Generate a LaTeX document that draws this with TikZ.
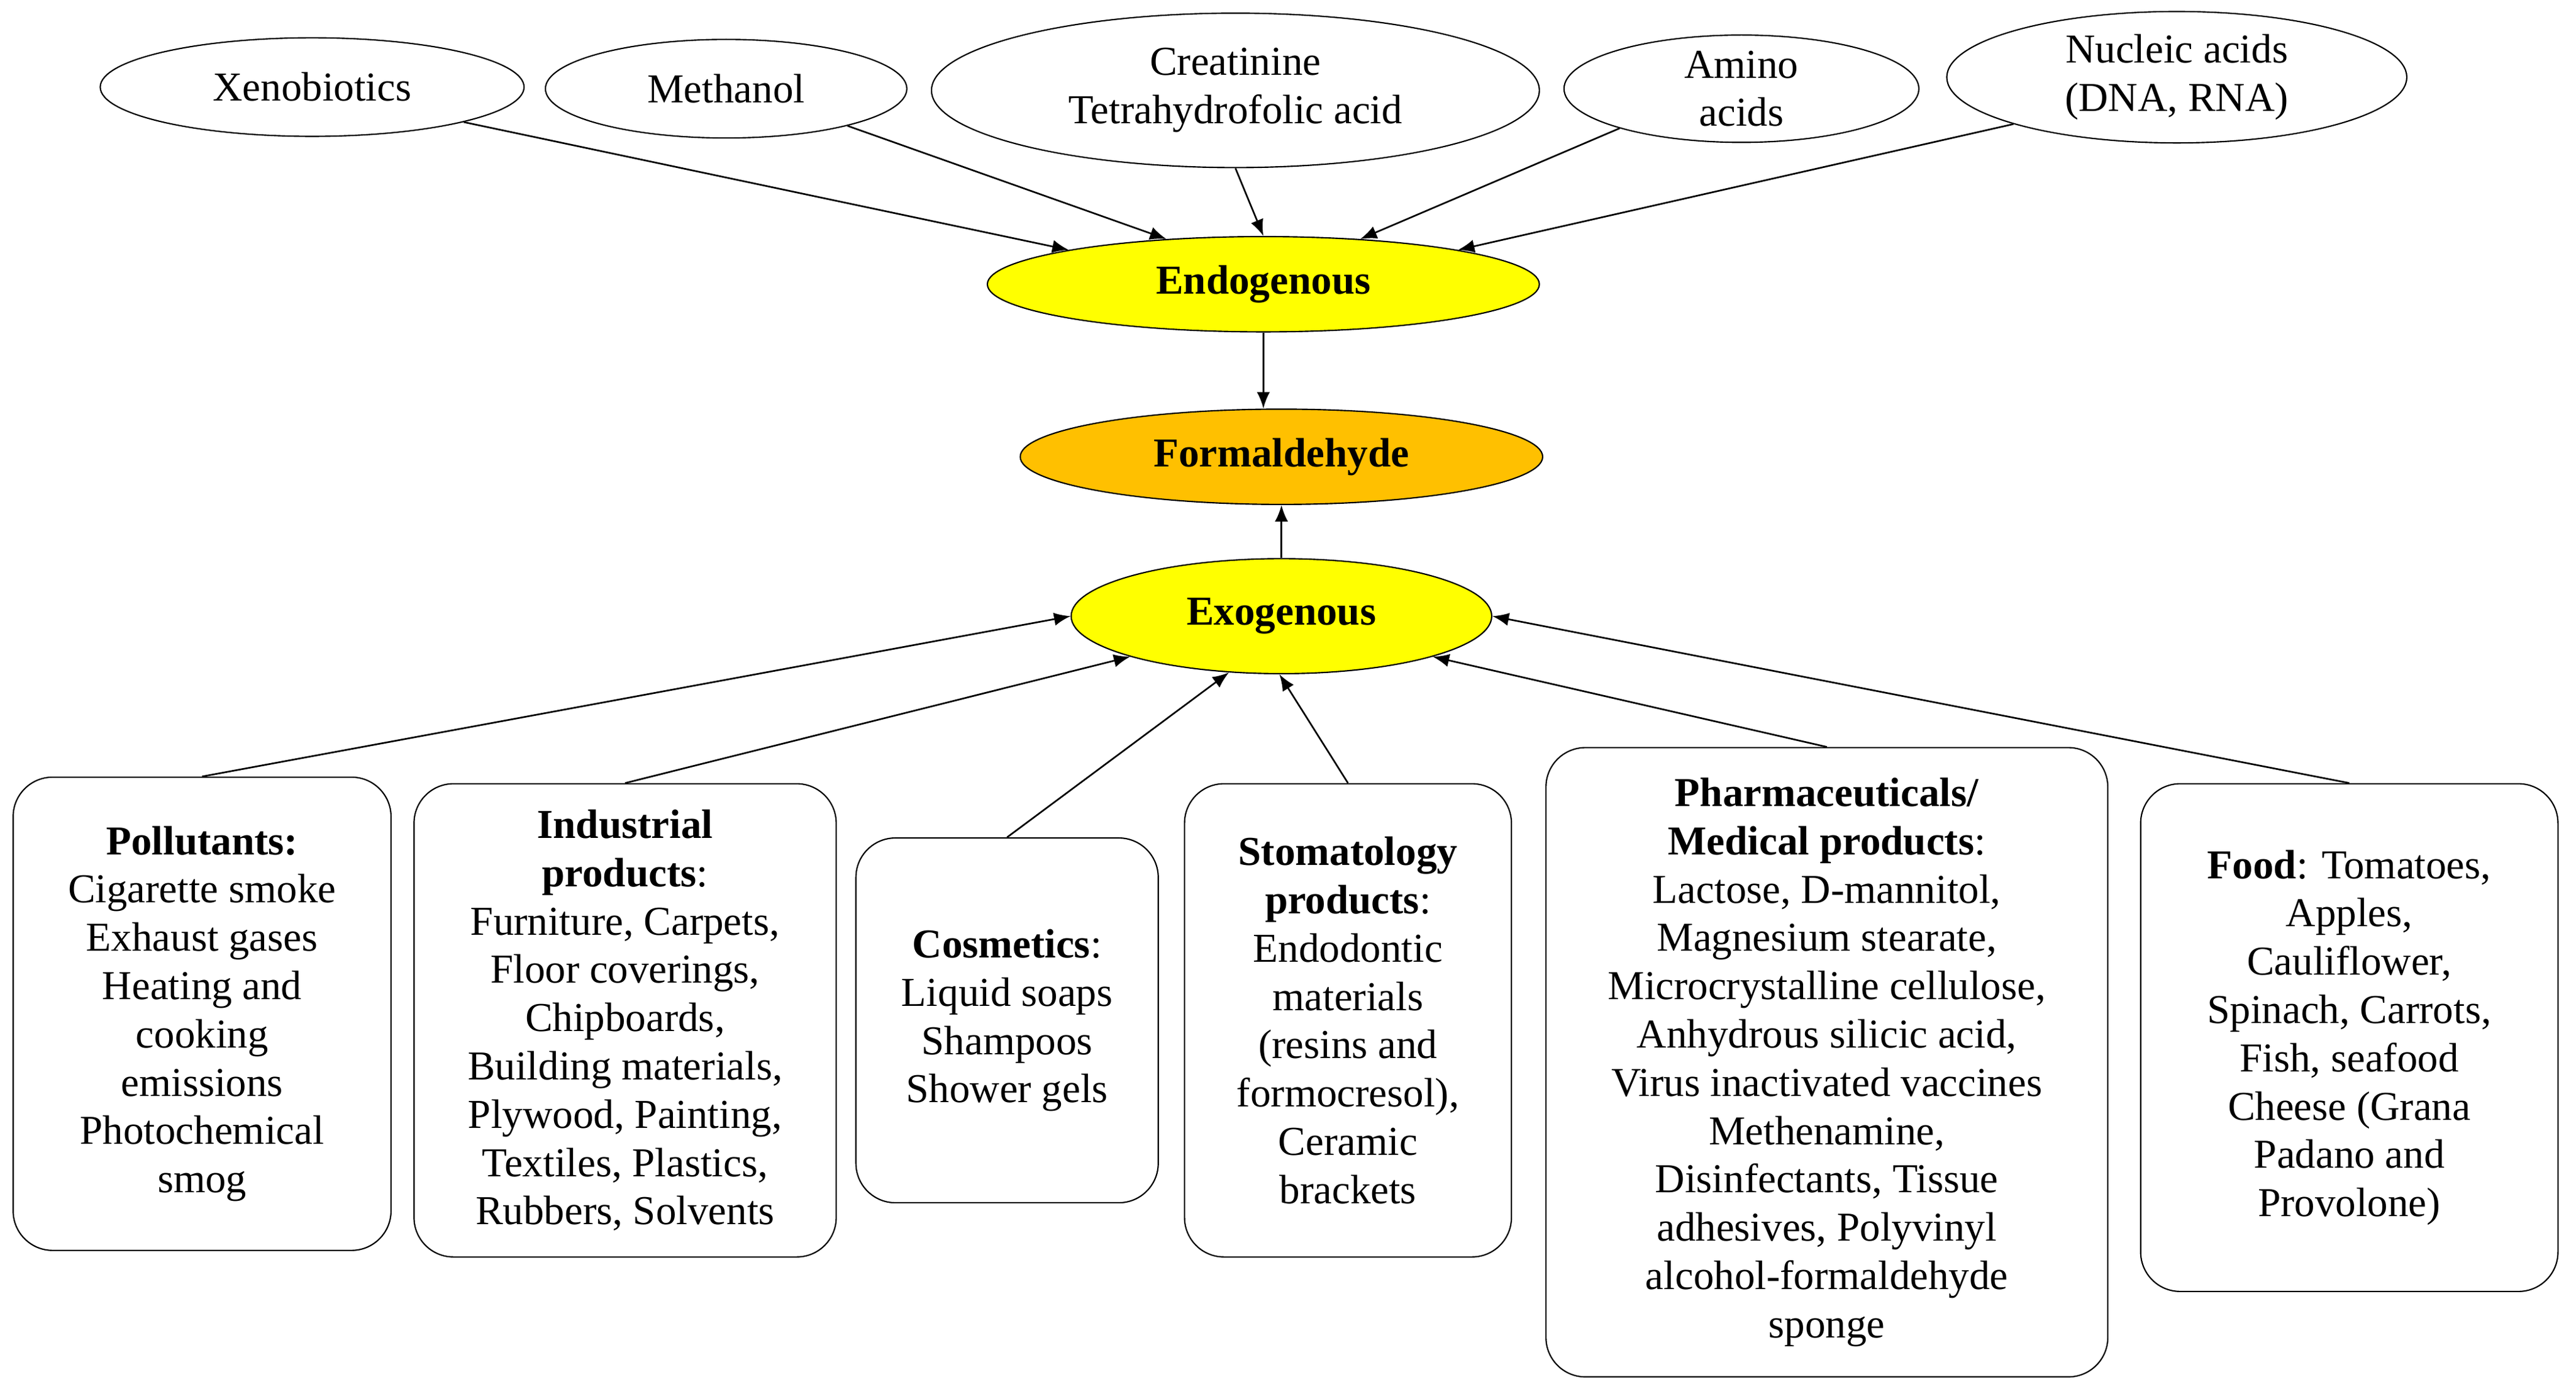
\documentclass[tikz,border=0pt]{standalone}
\usepackage{fontspec}
\setmainfont{Liberation Serif}
\usetikzlibrary{shapes.geometric,arrows.meta}
\definecolor{endoyel}{RGB}{255,255,0}
\definecolor{formor}{RGB}{255,192,0}
\begin{document}
\begin{tikzpicture}[x=0.5pt,y=-0.5pt,
  every node/.style={font=\fontsize{12.5}{14.7}\selectfont, align=center},
  src/.style={ellipse, draw, inner sep=0pt},
  hub/.style={ellipse, draw, inner sep=0pt, fill=endoyel, font=\fontsize{12.5}{14.7}\selectfont\bfseries},
  box/.style={draw, rounded corners=12pt, inner sep=0pt},
  arr/.style={-{Latex[length=5pt,width=4pt]}, line width=0.5pt}]
\useasboundingbox (0,0) rectangle (1568,845);
% sources
\node[src, minimum width=129pt, minimum height=30pt] (xen) at (190,53) {Xenobiotics};
\node[src, minimum width=110pt, minimum height=30pt] (met) at (442,54) {Methanol};
\node[src, minimum width=185pt, minimum height=47pt] (cre) at (752,55) {Creatinine\\Tetrahydrofolic acid};
\node[src, minimum width=108pt, minimum height=32pt] (ami) at (1060,54) {Amino\\acids};
\node[src, minimum width=140pt, minimum height=40pt] (nuc) at (1325,47) {Nucleic acids\\(DNA, RNA)};
% hubs
\node[hub, minimum width=168pt, minimum height=29pt] (endo) at (769,173) {Endogenous};
\node[hub, fill=formor, minimum width=159pt, minimum height=29pt] (form) at (780,278) {Formaldehyde};
\node[hub, minimum width=128pt, minimum height=35pt] (exo) at (780,375) {Exogenous};
% boxes
\node[box, minimum width=115pt, minimum height=144pt] (pol) at (123,617) {\textbf{Pollutants:}\\Cigarette smoke\\Exhaust gases\\Heating and\\cooking\\emissions\\Photochemical\\smog};
\node[box, minimum width=128.5pt, minimum height=144pt] (ind) at (380.5,621) {\textbf{Industrial}\\\textbf{products}:\\Furniture, Carpets,\\Floor coverings,\\Chipboards,\\Building materials,\\Plywood, Painting,\\Textiles, Plastics,\\Rubbers, Solvents};
\node[box, minimum width=92pt, minimum height=111pt] (cos) at (613,621) {\textbf{Cosmetics}:\\Liquid soaps\\Shampoos\\Shower gels};
\node[box, minimum width=99.5pt, minimum height=144pt] (sto) at (820.5,621) {\textbf{Stomatology}\\\textbf{products}:\\Endodontic\\materials\\(resins and\\formocresol),\\Ceramic\\brackets};
\node[box, minimum width=171pt, minimum height=191.5pt] (pha) at (1112,646.5) {\textbf{Pharmaceuticals/}\\\textbf{Medical products}:\\Lactose, D-mannitol,\\Magnesium stearate,\\Microcrystalline cellulose,\\Anhydrous silicic acid,\\Virus inactivated vaccines\\Methenamine,\\Disinfectants, Tissue\\adhesives, Polyvinyl\\alcohol-formaldehyde\\sponge};
\node[box, minimum width=127pt, minimum height=154.5pt] (foo) at (1430,631.5) {\textbf{Food}: Tomatoes,\\Apples,\\Cauliflower,\\Spinach, Carrots,\\Fish, seafood\\Cheese (Grana\\Padano and\\Provolone)};
% connectors
\draw[arr] (xen.347) -- (endo.170);
\draw[arr] (met.343) -- (endo.155);
\draw[arr] (cre.south) -- (endo.north);
\draw[arr] (ami.198) -- (endo.25);
\draw[arr] (nuc.196) -- (endo.10);
\draw[arr] (endo.south) -- (endo.south |- form.north);
\draw[arr] (exo.north) -- (form.south);
\draw[arr] (pol.north) -- (exo.west);
\draw[arr] (ind.north) -- (exo.195);
\draw[arr] (cos.north) -- (exo.227);
\draw[arr] (sto.north) -- (exo.268);
\draw[arr] (pha.north) -- (exo.345);
\draw[arr] (foo.north) -- (exo.east);
\end{tikzpicture}
\end{document}
